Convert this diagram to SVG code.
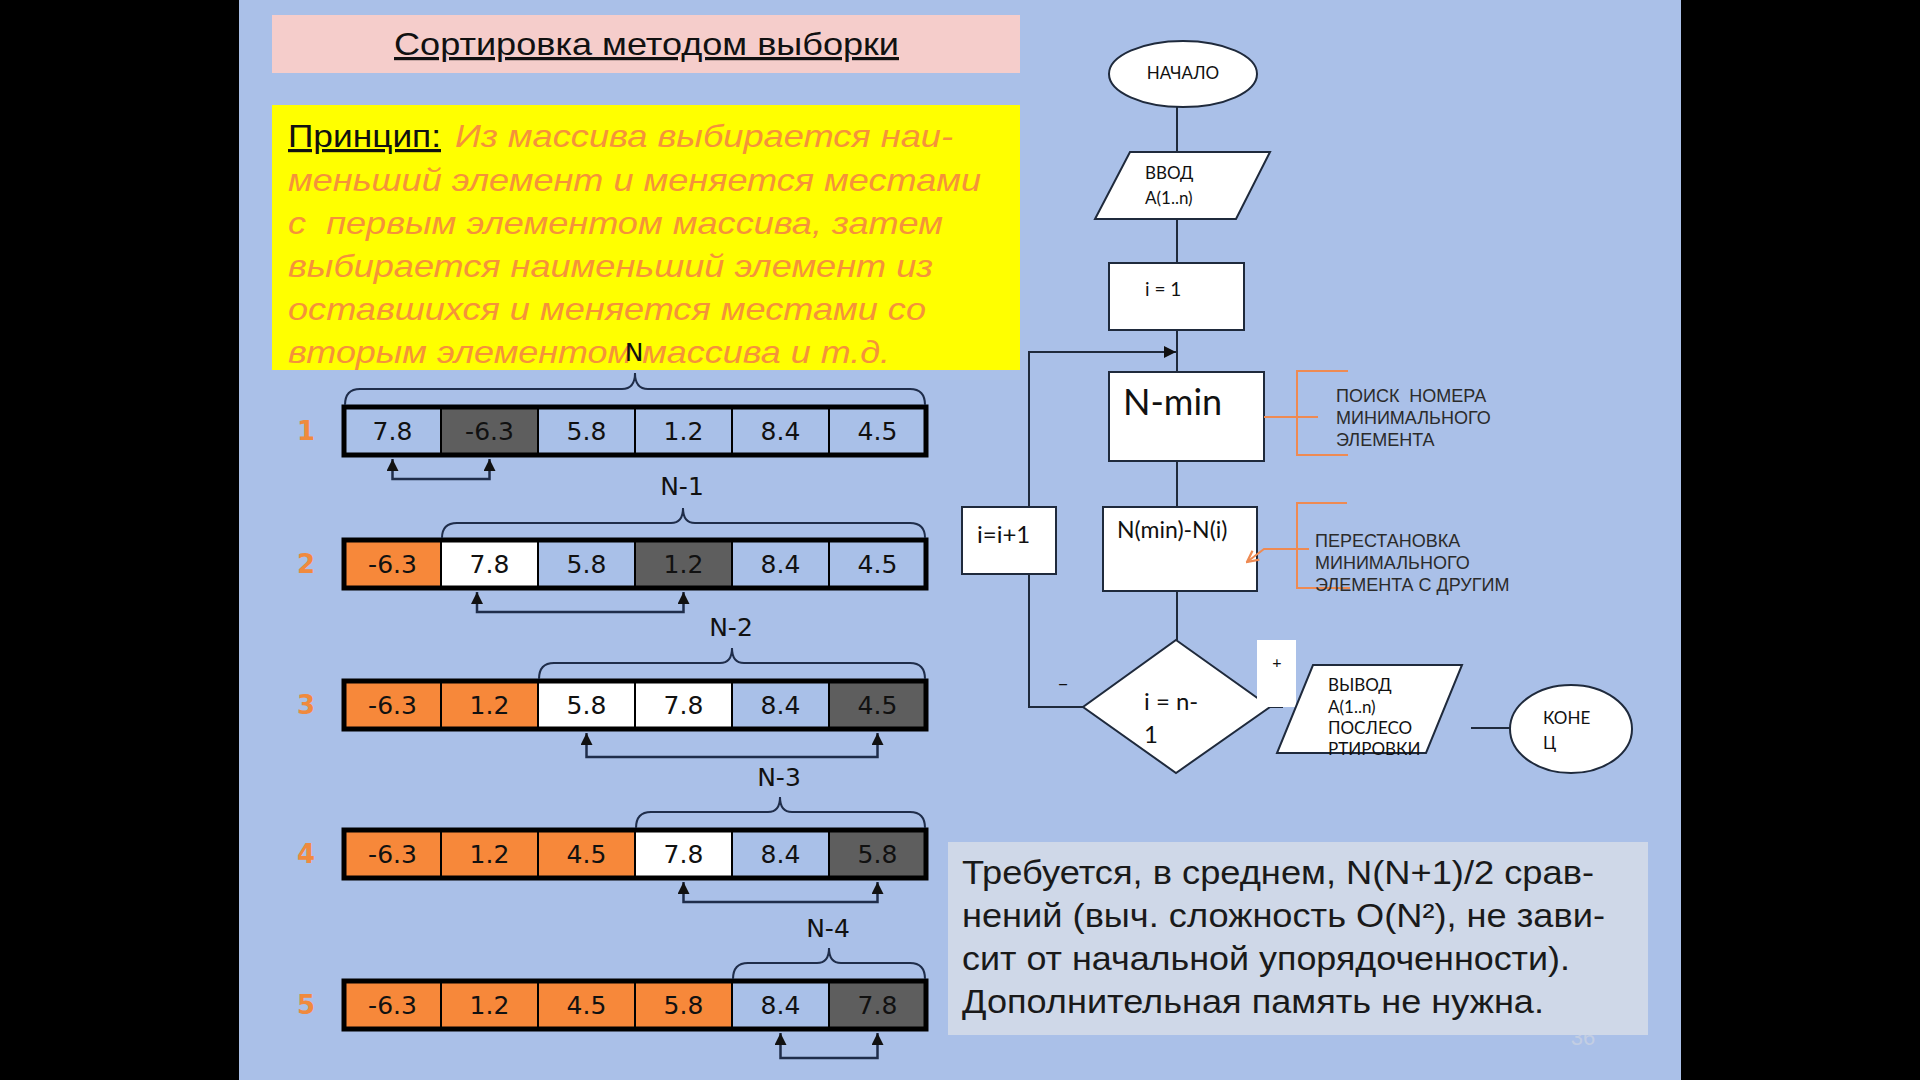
<svg xmlns="http://www.w3.org/2000/svg" width="1920" height="1080" viewBox="0 0 1920 1080">
  <defs>
    <style>
      .cb { fill: #A9C0E8; }
      .cg { fill: #5E5E5E; }
      .co { fill: #F7883A; }
      .cw { fill: #FFFFFF; }
      .div { stroke: #000; stroke-width: 2; }
      .frame { fill: none; stroke: #000; stroke-width: 5; }
      .val { font-family: "DejaVu Sans", sans-serif; font-size: 25px; text-anchor: middle; fill: #111; }
      .rownum { font-family: "DejaVu Sans", sans-serif; font-size: 26px; font-weight: bold; text-anchor: middle; fill: #F08A3E; }
      .brace { fill: none; stroke: #1F2D4A; stroke-width: 2; }
      .blabel { font-family: "DejaVu Sans", sans-serif; font-size: 25px; text-anchor: middle; fill: #111; }
      .swap { fill: none; stroke: #1F2D4A; stroke-width: 2.5; }
      .fshape { fill: #FFFFFF; stroke: #1F2A3C; stroke-width: 2; }
      .fline { fill: none; stroke: #1F2A3C; stroke-width: 2; }
      .ftxt { font-family: Lato, "Open Sans", sans-serif; fill: #111; }
      .small { font-size: 17px; }
      .note { font-family: "Liberation Sans", Arial, sans-serif; font-size: 18px; fill: #2B2B2B; }
      .obr { fill: none; stroke: #EE8A52; stroke-width: 2; }
      .prin { font-family: "Liberation Sans", Arial, sans-serif; font-size: 32px; }
      .summary { font-family: "Liberation Sans", Arial, sans-serif; font-size: 34px; fill: #1A1A1A; }
    </style>
    <marker id="tri" viewBox="0 0 10 10" refX="10" refY="5" markerWidth="12" markerHeight="12" markerUnits="userSpaceOnUse" orient="auto-start-reverse">
      <path d="M0,0 L10,5 L0,10 Z" fill="#111"/>
    </marker>
    <marker id="tri2" viewBox="0 0 10 10" refX="10" refY="5" markerWidth="14" markerHeight="12" markerUnits="userSpaceOnUse" orient="auto">
      <path d="M0,0 L10,5 L0,10 Z" fill="#111"/>
    </marker>
    <marker id="chev" viewBox="0 0 10 10" refX="9" refY="5" markerWidth="14" markerHeight="14" markerUnits="userSpaceOnUse" orient="auto">
      <path d="M1,1 L9,5 L1,9" fill="none" stroke="#EE8A52" stroke-width="1.6"/>
    </marker>
  </defs>

  <!-- page -->
  <rect x="0" y="0" width="1920" height="1080" fill="#000"/>
  <rect x="239" y="0" width="1442" height="1080" fill="#AAC0E8"/>

  <!-- title -->
  <g id="title">
    <rect x="272" y="15" width="748" height="58" fill="#F5CDCB"/>
    <text x="394" y="55" font-family="Liberation Sans, Arial, sans-serif" font-size="32" fill="#111" text-decoration="underline" textLength="505" lengthAdjust="spacingAndGlyphs">Сортировка методом выборки</text>
  </g>

  <!-- principle -->
  <g id="principle">
    <rect x="272" y="105" width="748" height="265" fill="#FFFF00"/>
    <text class="prin" x="288" y="147" fill="#111" text-decoration="underline" textLength="153" lengthAdjust="spacingAndGlyphs">Принцип:</text>
    <g class="prin" fill="#F5923A" font-style="italic">
      <text x="455" y="147" textLength="498" lengthAdjust="spacingAndGlyphs">Из массива выбирается наи-</text>
      <text x="288" y="191" textLength="693" lengthAdjust="spacingAndGlyphs">меньший элемент и меняется местами</text>
      <text x="288" y="234" textLength="655" lengthAdjust="spacingAndGlyphs" xml:space="preserve">с  первым элементом массива, затем</text>
      <text x="288" y="277" textLength="645" lengthAdjust="spacingAndGlyphs">выбирается наименьший элемент из</text>
      <text x="288" y="320" textLength="638" lengthAdjust="spacingAndGlyphs">оставшихся и меняется местами со</text>
      <text x="288" y="363" textLength="602" lengthAdjust="spacingAndGlyphs">вторым элементом массива и т.д.</text>
    </g>
  </g>

  <!-- array passes -->
  <g id="row1">
    <text class="rownum" x="306" y="440">1</text>
    <rect class="cb" x="344" y="407" width="97" height="48"/>
    <rect class="cg" x="441" y="407" width="97" height="48"/>
    <rect class="cb" x="538" y="407" width="388" height="48"/>
    <g class="div"><line x1="441" y1="407" x2="441" y2="455"/><line x1="538" y1="407" x2="538" y2="455"/><line x1="635" y1="407" x2="635" y2="455"/><line x1="732" y1="407" x2="732" y2="455"/><line x1="829" y1="407" x2="829" y2="455"/></g>
    <rect class="frame" x="344" y="407" width="582" height="48"/>
    <text class="val" x="392.5" y="440">7.8</text><text class="val" x="489.5" y="440">-6.3</text><text class="val" x="586.5" y="440">5.8</text><text class="val" x="683.5" y="440">1.2</text><text class="val" x="780.5" y="440">8.4</text><text class="val" x="877.5" y="440">4.5</text>
  </g>

  <g id="row2">
    <text class="rownum" x="306" y="573">2</text>
    <rect class="co" x="344" y="540" width="97" height="48"/>
    <rect class="cw" x="441" y="540" width="97" height="48"/>
    <rect class="cb" x="538" y="540" width="97" height="48"/>
    <rect class="cg" x="635" y="540" width="97" height="48"/>
    <rect class="cb" x="732" y="540" width="194" height="48"/>
    <g class="div"><line x1="441" y1="540" x2="441" y2="588"/><line x1="538" y1="540" x2="538" y2="588"/><line x1="635" y1="540" x2="635" y2="588"/><line x1="732" y1="540" x2="732" y2="588"/><line x1="829" y1="540" x2="829" y2="588"/></g>
    <rect class="frame" x="344" y="540" width="582" height="48"/>
    <text class="val" x="392.5" y="573">-6.3</text><text class="val" x="489.5" y="573">7.8</text><text class="val" x="586.5" y="573">5.8</text><text class="val" x="683.5" y="573">1.2</text><text class="val" x="780.5" y="573">8.4</text><text class="val" x="877.5" y="573">4.5</text>
  </g>

  <g id="row3">
    <text class="rownum" x="306" y="714">3</text>
    <rect class="co" x="344" y="681" width="194" height="48"/>
    <rect class="cw" x="538" y="681" width="194" height="48"/>
    <rect class="cb" x="732" y="681" width="97" height="48"/>
    <rect class="cg" x="829" y="681" width="97" height="48"/>
    <g class="div"><line x1="441" y1="681" x2="441" y2="729"/><line x1="538" y1="681" x2="538" y2="729"/><line x1="635" y1="681" x2="635" y2="729"/><line x1="732" y1="681" x2="732" y2="729"/><line x1="829" y1="681" x2="829" y2="729"/></g>
    <rect class="frame" x="344" y="681" width="582" height="48"/>
    <text class="val" x="392.5" y="714">-6.3</text><text class="val" x="489.5" y="714">1.2</text><text class="val" x="586.5" y="714">5.8</text><text class="val" x="683.5" y="714">7.8</text><text class="val" x="780.5" y="714">8.4</text><text class="val" x="877.5" y="714">4.5</text>
  </g>

  <g id="row4">
    <text class="rownum" x="306" y="863">4</text>
    <rect class="co" x="344" y="830" width="291" height="48"/>
    <rect class="cw" x="635" y="830" width="97" height="48"/>
    <rect class="cb" x="732" y="830" width="97" height="48"/>
    <rect class="cg" x="829" y="830" width="97" height="48"/>
    <g class="div"><line x1="441" y1="830" x2="441" y2="878"/><line x1="538" y1="830" x2="538" y2="878"/><line x1="635" y1="830" x2="635" y2="878"/><line x1="732" y1="830" x2="732" y2="878"/><line x1="829" y1="830" x2="829" y2="878"/></g>
    <rect class="frame" x="344" y="830" width="582" height="48"/>
    <text class="val" x="392.5" y="863">-6.3</text><text class="val" x="489.5" y="863">1.2</text><text class="val" x="586.5" y="863">4.5</text><text class="val" x="683.5" y="863">7.8</text><text class="val" x="780.5" y="863">8.4</text><text class="val" x="877.5" y="863">5.8</text>
  </g>

  <g id="row5">
    <text class="rownum" x="306" y="1014">5</text>
    <rect class="co" x="344" y="981" width="388" height="48"/>
    <rect class="cb" x="732" y="981" width="97" height="48"/>
    <rect class="cg" x="829" y="981" width="97" height="48"/>
    <g class="div"><line x1="441" y1="981" x2="441" y2="1029"/><line x1="538" y1="981" x2="538" y2="1029"/><line x1="635" y1="981" x2="635" y2="1029"/><line x1="732" y1="981" x2="732" y2="1029"/><line x1="829" y1="981" x2="829" y2="1029"/></g>
    <rect class="frame" x="344" y="981" width="582" height="48"/>
    <text class="val" x="392.5" y="1014">-6.3</text><text class="val" x="489.5" y="1014">1.2</text><text class="val" x="586.5" y="1014">4.5</text><text class="val" x="683.5" y="1014">5.8</text><text class="val" x="780.5" y="1014">8.4</text><text class="val" x="877.5" y="1014">7.8</text>
  </g>

  <!-- braces marking the unsorted part -->
  <g id="braces">
    <path class="brace" d="M345,405 Q345,389 360,389 L622,389 Q635,389 635,373 Q635,389 648,389 L910,389 Q925,389 925,405"/>
    <text class="blabel" x="634" y="361">N</text>
    <path class="brace" d="M442,538 Q442,523 457,523 L671,523 Q683,523 683,508 Q683,523 695,523 L910,523 Q925,523 925,538"/>
    <text class="blabel" x="682" y="495">N-1</text>
    <path class="brace" d="M539,679 Q539,663 554,663 L720,663 Q732,663 732,648 Q732,663 744,663 L910,663 Q925,663 925,679"/>
    <text class="blabel" x="731" y="636">N-2</text>
    <path class="brace" d="M636,828 Q636,812 651,812 L768,812 Q780,812 780,797 Q780,812 792,812 L910,812 Q925,812 925,828"/>
    <text class="blabel" x="779" y="786">N-3</text>
    <path class="brace" d="M733,979 Q733,963 748,963 L817,963 Q829,963 829,948 Q829,963 841,963 L910,963 Q925,963 925,979"/>
    <text class="blabel" x="828" y="937">N-4</text>
  </g>

  <!-- swap arrows -->
  <g id="swaps">
    <path class="swap" d="M392.5,459 L392.5,479 L489.5,479 L489.5,459" marker-start="url(#tri)" marker-end="url(#tri)"/>
    <path class="swap" d="M477,592 L477,612 L683.5,612 L683.5,592" marker-start="url(#tri)" marker-end="url(#tri)"/>
    <path class="swap" d="M586.5,733 L586.5,757 L877.5,757 L877.5,733" marker-start="url(#tri)" marker-end="url(#tri)"/>
    <path class="swap" d="M683.5,882 L683.5,902 L877.5,902 L877.5,882" marker-start="url(#tri)" marker-end="url(#tri)"/>
    <path class="swap" d="M780.5,1033 L780.5,1058 L877.5,1058 L877.5,1033" marker-start="url(#tri)" marker-end="url(#tri)"/>
  </g>

  <!-- flowchart connectors -->
  <g id="connectors">
    <line class="fline" x1="1177" y1="107" x2="1177" y2="152"/>
    <line class="fline" x1="1177" y1="219" x2="1177" y2="263"/>
    <line class="fline" x1="1177" y1="330" x2="1177" y2="372"/>
    <line class="fline" x1="1177" y1="461" x2="1177" y2="507"/>
    <line class="fline" x1="1177" y1="591" x2="1177" y2="640"/>
    <path class="fline" d="M1029,507 L1029,352 L1176,352" marker-end="url(#tri2)"/>
    <path class="fline" d="M1029,574 L1029,707 L1083,707"/>
    <line class="fline" x1="1270" y1="707" x2="1283" y2="707"/>
    <line class="fline" x1="1471" y1="728" x2="1510" y2="728"/>
  </g>

  <!-- flowchart nodes -->
  <g id="start">
    <ellipse class="fshape" cx="1183" cy="74" rx="74" ry="33"/>
    <text class="ftxt small" x="1183" y="79" text-anchor="middle">НАЧАЛО</text>
  </g>
  <g id="input">
    <polygon class="fshape" points="1130,152 1270,152 1236,219 1095,219"/>
    <text class="ftxt small" x="1145" y="179">ВВОД</text>
    <text class="ftxt small" x="1145" y="204">A(1..n)</text>
  </g>
  <g id="init">
    <rect class="fshape" x="1109" y="263" width="135" height="67"/>
    <text class="ftxt" x="1145" y="296" font-size="19">i = 1</text>
  </g>
  <g id="find-min">
    <rect class="fshape" x="1109" y="372" width="155" height="89"/>
    <text class="ftxt" x="1123" y="415" font-size="36">N-min</text>
  </g>
  <g id="find-min-note">
    <path class="obr" d="M1348,371 L1297,371 L1297,455 L1348,455 M1264,417 L1318,417"/>
    <text class="note" x="1336" y="402" xml:space="preserve">ПОИСК  НОМЕРА</text>
    <text class="note" x="1336" y="424">МИНИМАЛЬНОГО</text>
    <text class="note" x="1336" y="446">ЭЛЕМЕНТА</text>
  </g>
  <g id="increment">
    <rect class="fshape" x="962" y="507" width="94" height="67"/>
    <text class="ftxt" x="977" y="543" font-size="24">i=i+1</text>
  </g>
  <g id="swap-step">
    <rect class="fshape" x="1103" y="507" width="154" height="84"/>
    <text class="ftxt" x="1117" y="538" font-size="23">N(min)-N(i)</text>
  </g>
  <g id="swap-note">
    <path class="obr" d="M1347,503 L1297,503 L1297,588 L1350,588"/>
    <path class="obr" d="M1309,549 L1264,549 L1247,562" marker-end="url(#chev)"/>
    <text class="note" x="1315" y="547">ПЕРЕСТАНОВКА</text>
    <text class="note" x="1315" y="569">МИНИМАЛЬНОГО</text>
    <text class="note" x="1315" y="591">ЭЛЕМЕНТА С ДРУГИМ</text>
  </g>
  <g id="check">
    <polygon class="fshape" points="1176,640 1270,707 1176,773 1083,707"/>
    <text class="ftxt" x="1144" y="710" font-size="24">i = n-</text>
    <text class="ftxt" x="1144" y="743" font-size="24">1</text>
    <text class="ftxt" x="1063" y="690" font-size="20" text-anchor="middle">–</text>
  </g>
  <g id="yes-label">
    <rect x="1257" y="640" width="39" height="67" fill="#FFFFFF"/>
    <text class="ftxt" x="1277" y="668" font-size="16" text-anchor="middle">+</text>
  </g>
  <g id="output">
    <polygon class="fshape" points="1313,665 1462,665 1426,753 1277,753"/>
    <text class="ftxt small" x="1328" y="691">ВЫВОД</text>
    <text class="ftxt small" x="1328" y="713">A(1..n)</text>
    <text class="ftxt small" x="1328" y="734">ПОСЛЕСО</text>
    <text class="ftxt small" x="1328" y="755">РТИРОВКИ</text>
  </g>
  <g id="end">
    <ellipse class="fshape" cx="1571" cy="729" rx="61" ry="44"/>
    <text class="ftxt small" x="1543" y="724">КОНЕ</text>
    <text class="ftxt small" x="1543" y="749">Ц</text>
  </g>

  <!-- page number, mostly hidden under the summary box -->
  <text x="1583" y="1045" font-family="Liberation Sans, Arial, sans-serif" font-size="22" fill="#C3CEE3" text-anchor="middle">36</text>

  <!-- summary -->
  <g id="summary">
    <rect x="948" y="842" width="700" height="193" fill="#CFD8E8"/>
    <text class="summary" x="962" y="884" textLength="632" lengthAdjust="spacingAndGlyphs">Требуется, в среднем, N(N+1)/2 срав-</text>
    <text class="summary" x="962" y="927" textLength="643" lengthAdjust="spacingAndGlyphs">нений (выч. сложность O(N²), не зави-</text>
    <text class="summary" x="962" y="970" textLength="608" lengthAdjust="spacingAndGlyphs">сит от начальной упорядоченности).</text>
    <text class="summary" x="962" y="1013" textLength="582" lengthAdjust="spacingAndGlyphs">Дополнительная память не нужна.</text>
  </g>
</svg>
